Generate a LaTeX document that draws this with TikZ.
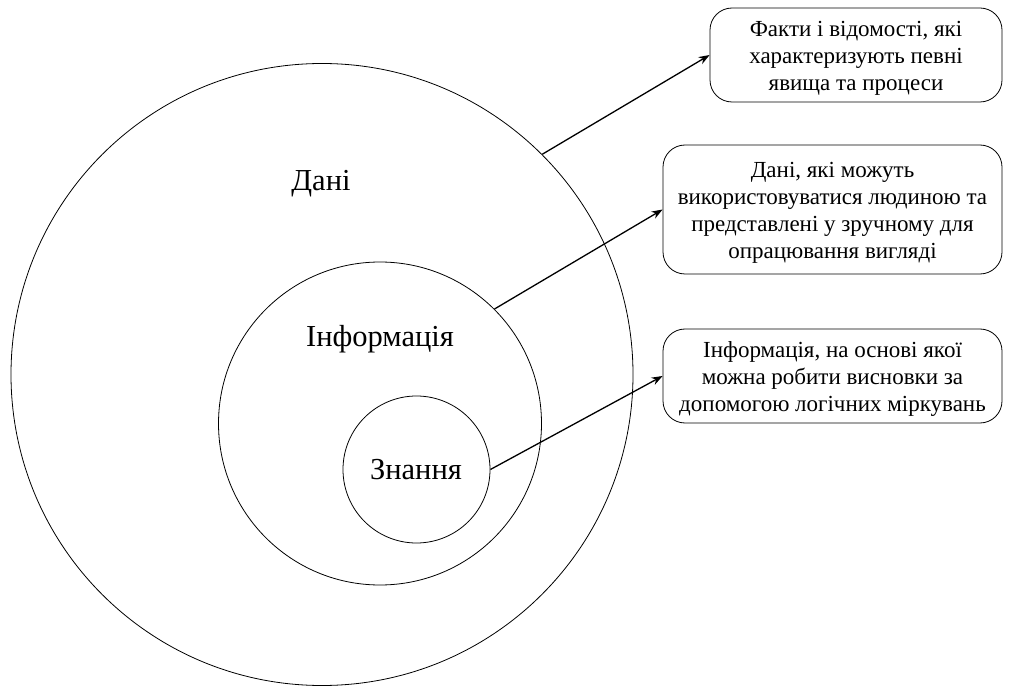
\documentclass[tikz,border=0pt]{standalone}
\usepackage{fontspec}
\setmainfont{Liberation Serif}
\usetikzlibrary{arrows.meta}
\begin{document}
\begin{tikzpicture}[x=1pt,y=-1pt,
  ring/.style={circle, draw, line width=0.8pt, inner sep=0pt},
  biglabel/.style={font=\fontsize{30.5}{36}\selectfont},
  infobox/.style={draw, line width=0.8pt, rounded corners=22pt, inner sep=0pt},
  boxtext/.style={align=center, inner sep=0pt, font=\fontsize{23}{27}\selectfont},
  link/.style={line width=1.3pt, -{Stealth[length=11pt,width=8pt]}}]
  \useasboundingbox (0,0) rectangle (1010,687);

  % nested circles
  \node[ring, minimum size=622pt] (dani) at (322,374.5) {};
  \node[ring, minimum size=323pt] (info) at (380,423.5) {};
  \node[ring, minimum size=147pt] (know) at (416.5,469.5) {};

  % circle labels
  \node[biglabel] (ldani) at (321,184) {Дані};
  \node[biglabel] (linfo) at (380,339) {Інформація};
  \node[biglabel] (lknow) at (416,470) {Знання};

  % definition boxes
  \node[infobox, minimum width=292pt, minimum height=94pt] (b1) at (856,55) {};
  \node[infobox, minimum width=339pt, minimum height=129pt] (b2) at (832.5,209.5) {};
  \node[infobox, minimum width=339pt, minimum height=94pt] (b3) at (832.5,376) {};

  % box texts, set a little below the box centres
  \node[boxtext] (t1) at ([yshift=-3pt]b1.center)
    {Факти і відомості, які\\характеризують певні\\явища та процеси};
  \node[boxtext] (t2) at ([yshift=-3pt]b2.center)
    {Дані, які можуть\\використовуватися людиною та\\представлені у зручному для\\опрацювання вигляді};
  \node[boxtext] (t3) at ([yshift=-3pt]b3.center)
    {Інформація, на основі якої\\можна робити висновки за\\допомогою логічних міркувань};

  % connectors
  \draw[link] (dani.45) -- (b1.west);
  \draw[link] (info.45) -- (b2.west);
  \draw[link] (know.east) -- (b3.west);
\end{tikzpicture}
\end{document}
